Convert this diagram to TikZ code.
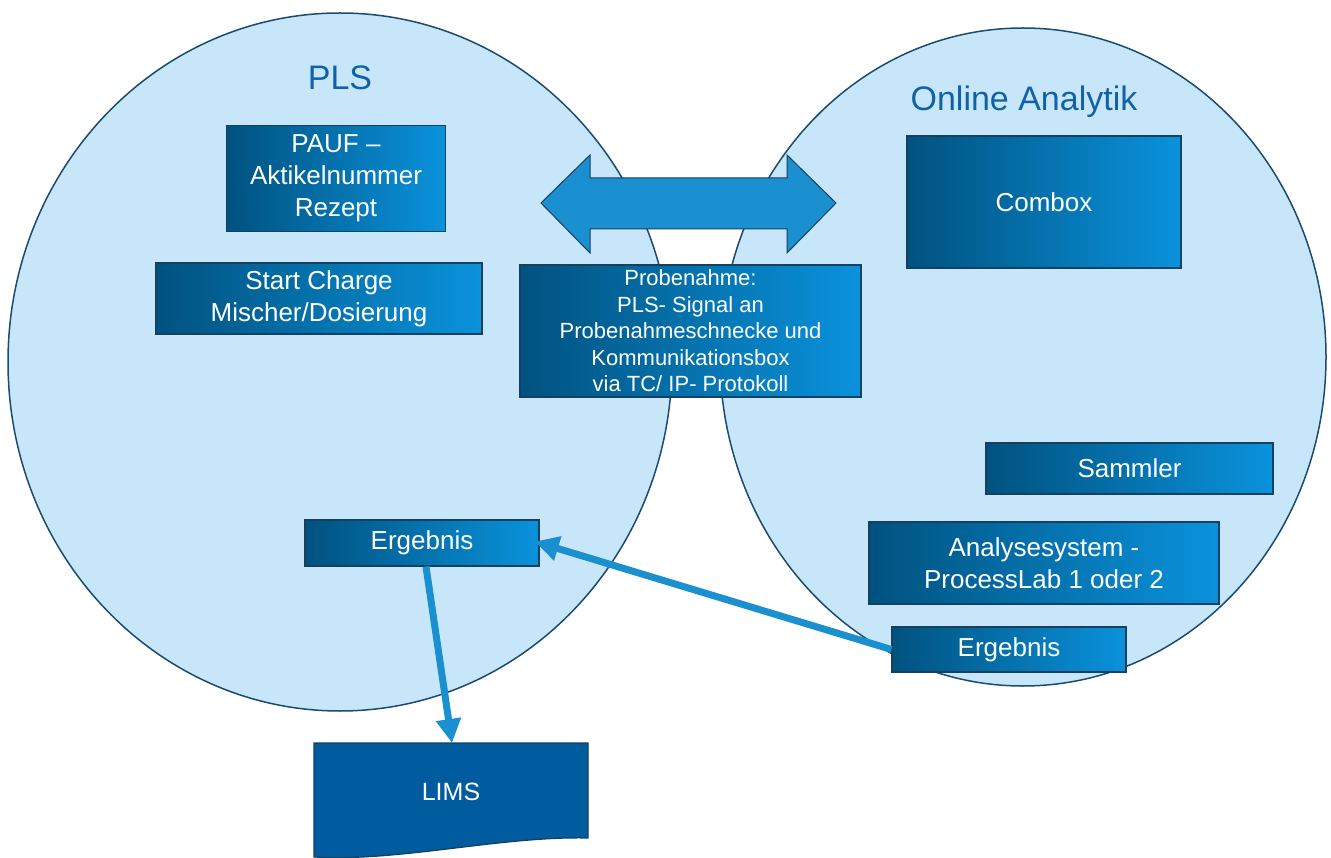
\documentclass[tikz,border=0pt]{standalone}
\usepackage{fontspec}
\setmainfont{Liberation Sans}
\usetikzlibrary{shapes.geometric,arrows.meta}
\definecolor{ellfill}{HTML}{C8E6F9}
\definecolor{ellline}{HTML}{1B4B6E}
\definecolor{boxdark}{HTML}{00527F}
\definecolor{boxlight}{HTML}{0A92DC}
\definecolor{boxline}{HTML}{17405E}
\definecolor{arrowblue}{HTML}{1B90D1}
\definecolor{limsfill}{HTML}{005B9F}
\definecolor{titleblue}{HTML}{0F62A8}
\begin{document}
\begin{tikzpicture}[x=1pt,y=-1pt,
  zone/.style={ellipse, draw=ellline, line width=1.5pt, fill=ellfill, inner sep=0pt},
  box/.style={draw=boxline, line width=1.2pt, left color=boxdark, right color=boxlight,
    text=white, align=center, inner sep=0pt, font=\fontsize{26}{32}\selectfont},
  smallbox/.style={box, font=\fontsize{22}{26.5}\selectfont},
  title/.style={text=titleblue, font=\fontsize{34}{40}\selectfont, anchor=base, inner sep=0pt},
  flow/.style={draw=arrowblue, line width=7pt, -{Triangle[length=24pt,width=24pt]}},
  dblarrow/.style={draw=boxline, line width=1pt, fill=arrowblue}]
\useasboundingbox (0,0) rectangle (1331,858);
% zones
\node[zone, minimum width=664pt, minimum height=698pt] (pls) at (340,362) {};
\node[zone, minimum width=606pt, minimum height=658pt] (oa) at (1023,357) {};
\node[title] (plst) at (340,90) {PLS};
\node[title] (oat) at (1024,111) {Online Analytik};
% double arrow
\path[dblarrow] (541,203) -- (590,155) -- (590,178) -- (787,178) -- (787,155) -- (836,203)
  -- (787,253) -- (787,229) -- (590,229) -- (590,253) -- cycle;
% boxes
\node[box, minimum width=219pt, minimum height=106pt] (pauf) at (336,178.5) {PAUF --\\Aktikelnummer\\Rezept};
\node[box, minimum width=326pt, minimum height=71pt] (start) at (319,298.5) {Start Charge\\Mischer/Dosierung};
\node[smallbox, minimum width=341pt, minimum height=132pt] (probe) at (690.5,331) {Probenahme:\\PLS- Signal an\\Probenahmeschnecke und\\Kommunikationsbox\\via TC/ IP- Protokoll};
\node[box, minimum width=274pt, minimum height=132pt] (combox) at (1044,202) {Combox};
\node[box, minimum width=287pt, minimum height=51pt] (samm) at (1129.5,468.5) {Sammler};
\node[box, minimum width=350pt, minimum height=82pt] (anal) at (1044,563) {Analysesystem -\\ProcessLab 1 oder 2};
\node[box, minimum width=234pt, minimum height=45pt] (ergR) at (1009,649.5) {Ergebnis};
\node[box, minimum width=234pt, minimum height=46pt] (ergL) at (422,543) {Ergebnis};
% LIMS document shape
\path[draw=boxline, line width=1.2pt, fill=limsfill] (314,743) -- (588,743) -- (588,838)
  .. controls (500,836) and (400,862) .. (314,857) -- cycle;
\node[text=white, font=\fontsize{25}{30}\selectfont] (lims) at (451,792) {LIMS};
\coordinate (limstop) at (452,743);
% connectors
\draw[flow, shorten >=-5pt] (ergR.west) -- (ergL.east);
\draw[flow] ([xshift=4pt]ergL.south) -- (limstop);
\end{tikzpicture}
\end{document}
